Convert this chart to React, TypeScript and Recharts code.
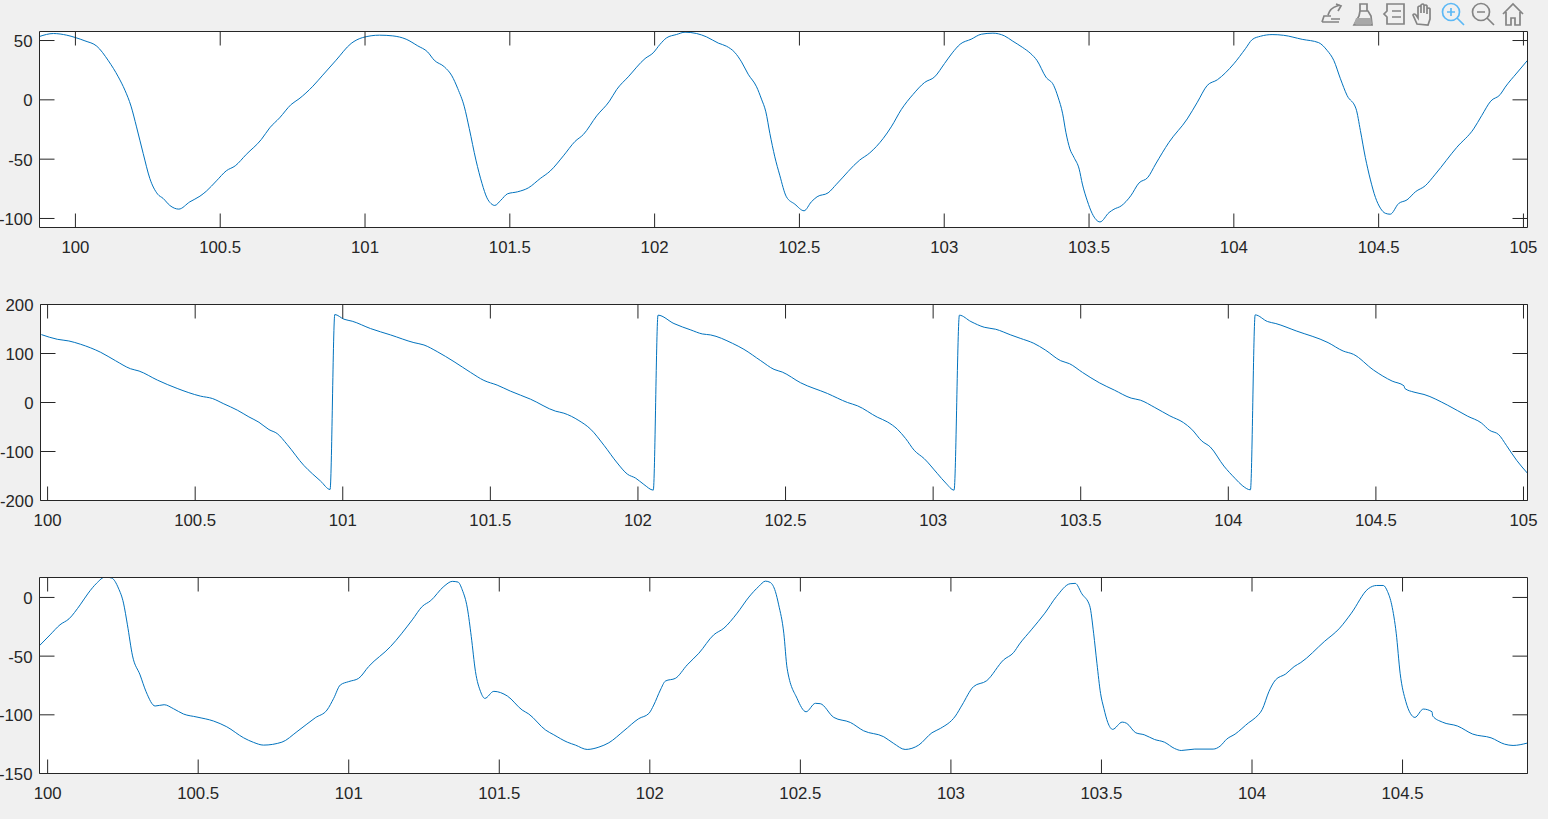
import React from "react";
import { LineChart, Line, XAxis, YAxis, CartesianGrid } from "recharts";

const x1 = [99.876,99.924,99.97,100,100.033,100.074,100.114,100.148,100.171,100.192,100.211,100.234,100.257,100.284,100.303,100.326,100.357,100.395,100.43,100.452,100.487,100.521,100.552,100.59,100.642,100.671,100.705,100.745,100.772,100.82,100.854,100.9,100.952,100.992,101.05,101.096,101.142,101.182,101.216,101.239,101.274,101.3,101.32,101.343,101.36,101.383,101.404,101.421,101.435,101.448,101.469,101.492,101.527,101.564,101.605,101.639,101.685,101.725,101.754,101.8,101.844,101.869,101.909,101.967,101.995,102.018,102.041,102.076,102.105,102.145,102.179,102.22,102.248,102.277,102.3,102.323,102.352,102.369,102.384,102.398,102.415,102.432,102.455,102.484,102.516,102.541,102.561,102.599,102.628,102.708,102.743,102.789,102.817,102.852,102.892,102.932,102.967,103.001,103.028,103.055,103.093,103.128,103.168,103.208,103.237,103.271,103.299,103.32,103.351,103.378,103.393,103.409,103.42,103.434,103.448,103.466,103.477,103.494,103.511,103.538,103.569,103.586,103.611,103.644,103.672,103.703,103.73,103.776,103.839,103.874,103.908,103.943,104,104.04,104.063,104.092,104.132,104.172,104.236,104.293,104.322,104.345,104.368,104.391,104.422,104.437,104.454,104.471,104.489,104.506,104.523,104.54,104.569,104.598,104.627,104.661,104.696,104.77,104.828,104.856,104.887,104.92,104.937,104.977,105.014];
const y1 = [53.4,55.9,54.5,52.5,49.7,45.2,32.9,19.4,8.1,-5.3,-22.8,-45.2,-66.3,-79.5,-83.1,-89,-92.1,-86,-81.2,-77,-68.3,-59.8,-55.6,-46,-33.4,-23.6,-15.2,-3.9,0.8,11.5,20.8,33.4,47.5,52.5,54.5,53.9,51.1,45.5,40.4,33.4,27.8,20.2,9.6,-5.9,-24.2,-50.8,-70.5,-82.6,-87.4,-89,-84.6,-79.2,-77.5,-74.2,-66.3,-60.1,-47.2,-35.1,-29.2,-13.5,-1.1,8.7,19.4,34.8,39.6,46.6,52.2,55.1,57,55.9,53.1,47.8,45.2,39.9,32,21.6,11,0.6,-10.1,-28.4,-48,-63.5,-81.7,-87.9,-93.5,-86,-81.7,-78.4,-71.1,-50.8,-44.7,-32.6,-22.8,-8.1,4.5,14.6,19.4,30.6,39.6,46.9,51.1,55.3,56.2,53.9,49.4,44.1,38.9,33.3,19.2,12.1,2.3,-11.8,-27.3,-41.4,-48.5,-58.4,-71,-85.1,-95.9,-102.9,-95,-92.2,-89.4,-80.9,-70.2,-65.4,-54.1,-35.8,-16.1,-2,12.1,16.9,30.4,43.1,50.7,53.6,55,54.4,51,48.2,41.7,33.3,17.8,3.7,-7.6,-25.9,-48.5,-66.8,-82.3,-91.3,-95.6,-96.4,-87.4,-84.3,-77.5,-72.4,-62.6,-40,-24.5,-13.2,-1.1,4.5,10.7,22.6,33.3];

const x2 = [99.979,100.033,100.072,100.112,100.18,100.23,100.281,100.31,100.372,100.439,100.518,100.558,100.597,100.643,100.682,100.716,100.75,100.778,100.812,100.868,100.897,100.925,100.957,100.973,101.004,101.032,101.094,101.162,101.241,101.275,101.32,101.377,101.433,101.478,101.523,101.568,101.636,101.721,101.749,101.8,101.84,101.885,101.93,101.964,101.992,102.02,102.052,102.068,102.122,102.179,102.218,102.246,102.32,102.359,102.416,102.461,102.489,102.551,102.642,102.71,102.744,102.811,102.845,102.879,102.907,102.936,102.97,103.015,103.043,103.071,103.089,103.128,103.173,103.212,103.263,103.295,103.341,103.38,103.432,103.462,103.506,103.563,103.614,103.671,103.702,103.751,103.802,103.848,103.876,103.91,103.939,103.985,104.024,104.047,104.075,104.091,104.133,104.161,104.23,104.338,104.389,104.424,104.492,104.555,104.595,104.598,104.629,104.663,104.743,104.811,104.857,104.885,104.916,104.942,104.977,105.013];
const y2 = [138.6,129,125.6,118.8,102.4,85.3,68.9,64.2,45.7,28.7,13,8.2,-2.7,-15.7,-29.4,-40.3,-55.3,-63.5,-86,-128.3,-145.4,-160.4,-177.5,179.5,170,165.9,150.9,137.9,122.2,117.4,103.8,83.3,61.4,45.1,35.5,23.2,6.8,-17.7,-21.8,-36.9,-54.6,-87.4,-123.5,-146.1,-154.3,-167.2,-178.8,178.2,161.1,148.1,139.9,137.9,120.8,108.5,85.3,67.6,62.1,40.3,18.4,0,-6.8,-30,-39.6,-54.6,-73.7,-97.6,-114.7,-145.4,-164.5,-178.8,178.2,165.2,153.6,149.5,137.9,131,120.8,107.2,85.3,79.2,61.4,40.3,25.3,8.9,4.8,-10.2,-27.3,-41,-54.6,-78.5,-90.8,-129.7,-155.6,-169.3,-178.2,178.8,165.2,161.1,146.1,122.2,105.1,98.3,66.2,43.7,34.1,28.7,21.2,16.4,-5.5,-28,-41.6,-56.7,-65.5,-87.4,-118.1,-144];

const x3 = [99.972,100.008,100.041,100.071,100.108,100.135,100.163,100.191,100.213,100.235,100.252,100.265,100.282,100.307,100.327,100.357,100.387,100.418,100.451,100.496,100.551,100.595,100.651,100.684,100.717,100.778,100.828,100.889,100.928,100.95,100.972,101,101.033,101.066,101.139,101.211,101.244,101.272,101.316,101.344,101.363,101.377,101.394,101.407,101.421,101.438,101.452,101.482,101.527,101.576,101.598,101.654,101.681,101.726,101.753,101.792,101.831,101.864,101.914,101.963,101.997,102.013,102.035,102.052,102.085,102.124,102.163,102.212,102.246,102.29,102.329,102.362,102.384,102.4,102.417,102.428,102.445,102.456,102.489,102.519,102.55,102.566,102.611,102.666,102.71,102.777,102.81,102.848,102.893,102.937,102.965,103.015,103.037,103.075,103.119,103.175,103.208,103.228,103.267,103.312,103.351,103.396,103.413,103.435,103.461,103.474,103.485,103.497,103.508,103.521,103.537,103.569,103.584,103.614,103.642,103.676,103.709,103.743,103.765,103.81,103.871,103.894,103.916,103.944,103.989,104.011,104.034,104.056,104.078,104.112,104.14,104.162,104.24,104.291,104.33,104.386,104.414,104.436,104.45,104.464,104.479,104.492,104.511,104.526,104.541,104.569,104.598,104.6,104.632,104.683,104.733,104.794,104.839,104.867,104.914];
const y3 = [-41.3,-31.9,-23.3,-18.2,-6.3,3.7,12.2,17.4,16.5,8,-4.8,-23.3,-49.8,-66,-80.3,-92.5,-91.4,-94.8,-99.3,-101.9,-105.3,-110.2,-119.6,-123.5,-125.8,-123.3,-114.4,-102.5,-95.9,-86,-74.6,-71.7,-68.9,-58.9,-41.8,-19.1,-7.7,-2.8,9.4,13.7,13.1,6.5,-9.1,-33.3,-63.2,-80.3,-86,-80,-84,-95.9,-99.3,-113,-117,-123.3,-125.8,-129.5,-127.5,-123.8,-113.6,-103.3,-98.8,-91.7,-78.9,-71.2,-68.9,-57.5,-47.5,-31.9,-26.2,-13.4,0.3,9.4,13.9,12.8,5.1,-6.3,-30.5,-60.3,-86,-97.4,-90.2,-90.5,-102.2,-106.5,-113.6,-118.7,-124.4,-129.5,-125.8,-115.3,-111.6,-101,-91.7,-76,-70.9,-53.2,-47,-39.6,-27.6,-13.4,0.9,11.7,12,3.1,-7.1,-30.5,-56.1,-81.7,-94.5,-106.5,-112.4,-106.2,-107.3,-115.3,-117,-121,-123.3,-128.7,-130.4,-129.2,-129.2,-126.7,-120.7,-116.4,-106.7,-102.5,-95.4,-80.3,-70.3,-65.2,-58.9,-55.5,-37.6,-26.2,-13.4,7.4,10.2,10.2,5.1,-6.3,-30.5,-64.6,-88.8,-98.8,-102.2,-95.1,-97.4,-101,-106.2,-109.6,-116.4,-119.6,-125,-126.1,-124.1];

const xTicks1 = [100, 100.5, 101, 101.5, 102, 102.5, 103, 103.5, 104, 104.5, 105];
const xTicks3 = [100, 100.5, 101, 101.5, 102, 102.5, 103, 103.5, 104, 104.5];
const yTicks1 = [-100, -50, 0, 50];
const yTicks2 = [-200, -100, 0, 100, 200];
const yTicks3 = [-150, -100, -50, 0];

const zip = (xs: number[], ys: number[]) => xs.map((x, i) => ({ x, y: ys[i] }));

const AXIS = "#262626";
const FONT = { fontFamily: "'Liberation Sans', Arial, sans-serif", fontSize: 16.8, fill: AXIS };
const blank = () => "";

function Panel({ top, leftAxis, data, xDomain, yDomain, xTicks, yTicks }: any) {
  const line = { stroke: AXIS, strokeWidth: 1 };
  return (
    <div style={{ position: "absolute", left: 0, top, width: 1548, height: 264 }}>
      <LineChart width={1548} height={264} data={data} margin={{ top: 0.5, right: 0, bottom: 0, left: 0.5 }}>
        <CartesianGrid fill="#ffffff" horizontal={false} vertical={false} stroke="none" />
        <XAxis xAxisId="b" dataKey="x" type="number" orientation="bottom" height={36.5} domain={xDomain} ticks={xTicks} interval={0}
          allowDataOverflow tickSize={-14} tickMargin={27.5} axisLine={line} tickLine={line} tick={FONT} />
        <XAxis xAxisId="t" dataKey="x" type="number" orientation="top" height={31} domain={xDomain} ticks={xTicks} interval={0}
          allowDataOverflow tickSize={-14} tickFormatter={blank} axisLine={line} tickLine={line} />
        <YAxis yAxisId="l" type="number" orientation="left" width={leftAxis} domain={yDomain} ticks={yTicks} interval={0}
          allowDataOverflow tickSize={-15} tickMargin={22} axisLine={line} tickLine={line} tick={{ ...FONT, dy: 0.5 }} />
        <YAxis yAxisId="r" type="number" orientation="right" width={20.5} domain={yDomain} ticks={yTicks} interval={0}
          allowDataOverflow tickSize={-15} tickFormatter={blank} axisLine={line} tickLine={line} />
        <Line xAxisId="b" yAxisId="l" dataKey="y" type="monotone" stroke="#0072BD" strokeWidth={1} dot={false} isAnimationActive={false} />
      </LineChart>
    </div>
  );
}

function Toolbar() {
  const g = "#848484";
  const common = { fill: "none", stroke: g, strokeWidth: 1.7 };
  return (
    <svg width={1548} height={30} style={{ position: "absolute", left: 0, top: 0 }}>
      <g {...common}>
        <path d="M1322 22h17M1322 22l2-6h7M1328 15q2-7 9-9l3-1M1336 4l5 2-3 5M1331 19h9" />
        <path d="M1360 4h7v7h-7zM1360 11l-1 5-5 9h18l-1-9-3-5z" />
        <path d="M1387 4h17v20h-17v-7l-3-3 3-3zM1392 11h9M1392 17h9" />
        <path d="M1417 24l-4-9q1-2 3 0l2 3V7q2-2 3 0v6-8q2-2 3 0v8-7q2-2 3 0v8-5q2-2 3 0v10l-2 6z" />
      </g>
      <path d="M1356 18h15l1 6h-18z" fill="#a8a8a8" />
      <g fill="none" stroke="#5cb8f5" strokeWidth={1.7}>
        <circle cx={1451} cy={12} r={8.5} />
        <path d="M1457 18l7 7M1451 8v8M1447 12h8" />
      </g>
      <g {...common}>
        <circle cx={1481} cy={12} r={8.5} />
        <path d="M1487 18l7 7M1477 12h8" />
        <path d="M1503 14l10-10 10 10M1506 12v13h5v-7h4v7h5V12" />
      </g>
    </svg>
  );
}

export default function App() {
  return (
    <div style={{ position: "fixed", left: 0, top: 0, width: 1548, height: 819, background: "#f0f0f0", overflow: "hidden" }}>
      <Toolbar />
      <Panel top={0} leftAxis={39} data={zip(x1, y1)} xDomain={[99.876, 105.014]} yDomain={[-107.6, 57.6]} xTicks={xTicks1} yTicks={yTicks1} />
      <Panel top={273} leftAxis={40} data={zip(x2, y2)} xDomain={[99.976, 105.0136]} yDomain={[-200, 200]} xTicks={xTicks1} yTicks={yTicks2} />
      <Panel top={546} leftAxis={39} data={zip(x3, y3)} xDomain={[99.973, 104.915]} yDomain={[-150, 17]} xTicks={xTicks3} yTicks={yTicks3} />
    </div>
  );
}
